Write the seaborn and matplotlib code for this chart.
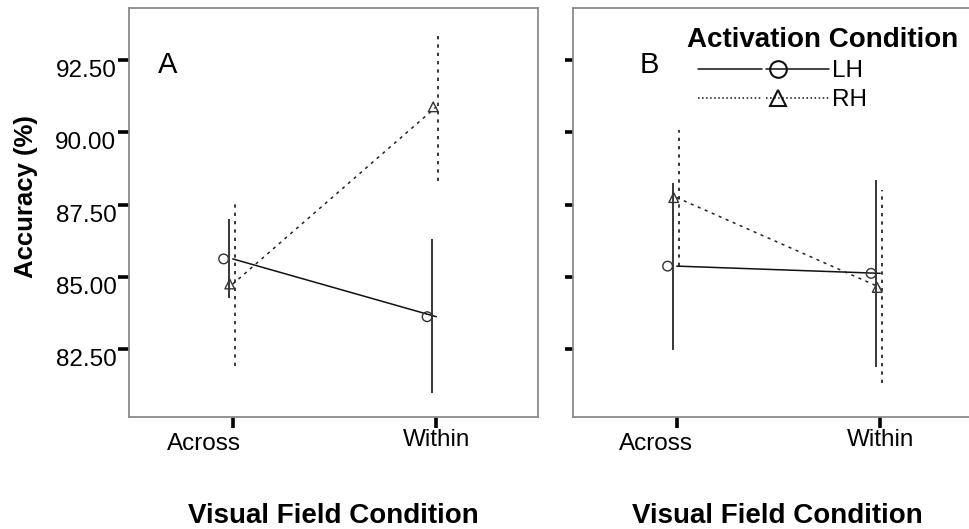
import numpy as np
import pandas as pd
import matplotlib
matplotlib.use("Agg")
import matplotlib.pyplot as plt
import matplotlib.transforms as mtransforms
from matplotlib.lines import Line2D
from matplotlib.legend_handler import HandlerBase
import seaborn as sns

# ---- data -------------------------------------------------------------
conditions = ["Across", "Within"]
hemispheres = ["LH", "RH"]
panel_labels = ["A", "B"]
y_ticks = [82.5, 85.0, 87.5, 90.0, 92.5]

# Panel A: mean accuracy (%) and confidence limits, [Across, Within]
lh_mean_a = [85.62, 83.62]
lh_low_a = [84.26, 80.98]
lh_high_a = [87.00, 86.31]
rh_mean_a = [84.75, 90.88]
rh_low_a = [81.90, 88.31]
rh_high_a = [87.59, 93.47]

# Panel B
lh_mean_b = [85.37, 85.12]
lh_low_b = [82.47, 81.88]
lh_high_b = [88.24, 88.35]
rh_mean_b = [87.74, 84.63]
rh_low_b = [85.37, 81.32]
rh_high_b = [90.08, 88.00]

# ---- style ------------------------------------------------------------
sns.set_style("white")
plt.rcParams["font.family"] = ["Liberation Sans", "DejaVu Sans"]
plt.rcParams.update({
    "text.color": "black",
    "axes.labelcolor": "black",
    "xtick.color": "black",
    "ytick.color": "black",
})

W, H = 970, 529
fig = plt.figure(figsize=(W / 100, H / 100), dpi=100)
ax_a = fig.add_axes([129 / W, 112 / H, 409 / W, 409 / H])
ax_b = fig.add_axes([573 / W, 112 / H, 409 / W, 409 / H])

line_off = {"LH": 0.0, "RH": 0.0}
bar_off = {"LH": -0.02, "RH": 0.01}
mark_off = {"LH": -0.045, "RH": -0.015}
dotted = (0, (2, 3))


def panel_frame(lh_m, lh_lo, lh_hi, rh_m, rh_lo, rh_hi):
    df = pd.DataFrame({
        "cond": conditions * 2,
        "hemi": ["LH"] * 2 + ["RH"] * 2,
        "acc": lh_m + rh_m,
        "low": lh_lo + rh_lo,
        "high": lh_hi + rh_hi,
    })
    pos = df["cond"].map({c: i for i, c in enumerate(conditions)})
    df["x_line"] = pos + df["hemi"].map(line_off)
    df["x_bar"] = pos + df["hemi"].map(bar_off)
    df["x_mark"] = pos + df["hemi"].map(mark_off)
    return df


frames = [
    panel_frame(lh_mean_a, lh_low_a, lh_high_a, rh_mean_a, rh_low_a, rh_high_a),
    panel_frame(lh_mean_b, lh_low_b, lh_high_b, rh_mean_b, rh_low_b, rh_high_b),
]

label_shift = [-28.5, -21.0]   # horizontal shift of the "Across" label, px

for ax, df, letter, shift in zip([ax_a, ax_b], frames, panel_labels, label_shift):
    # connecting lines
    sns.lineplot(data=df, x="x_line", y="acc", hue="hemi", style="hemi",
                 palette={"LH": "#111111", "RH": "#222222"},
                 dashes={"LH": "", "RH": (2, 3)}, linewidth=1.1,
                 errorbar=None, legend=False, ax=ax)
    # confidence-interval bars
    for h, ls in zip(hemispheres, ["solid", dotted]):
        sub = df[df["hemi"] == h]
        ax.vlines(sub["x_bar"], sub["low"], sub["high"], colors="#151515",
                  linestyles=ls, linewidth=1.2)
    # hollow markers
    n_before = len(ax.collections)
    sns.scatterplot(data=df, x="x_mark", y="acc", style="hemi",
                    markers={"LH": "o", "RH": "^"}, s=48, color="#333333",
                    legend=False, ax=ax, zorder=3)
    for coll in ax.collections[n_before:]:
        coll.set_facecolor("none")
        coll.set_edgecolor("#333333")
        coll.set_linewidth(1.0)

    ax.set_xlim(-0.51, 1.5)
    ax.set_ylim(80.15, 94.3)
    ax.set_xticks(range(len(conditions)))
    ax.set_xticklabels(conditions)
    ax.set_yticks(y_ticks)
    ax.set_yticklabels([f"{v:.2f}" for v in y_ticks])
    ax.tick_params(axis="both", direction="out", length=8, width=2.6,
                   color="black", labelcolor="black", labelsize=17.5, pad=1,
                   left=True, bottom=True)
    for sp in ax.spines.values():
        sp.set_visible(True)
        sp.set_color("#8a8a8a")
        sp.set_linewidth(1.3)

    ax.set_xlabel("Visual Field Condition", fontsize=20, fontweight="bold",
                  color="black")
    ax.xaxis.set_label_coords(0.5, -0.259)
    ax.xaxis.label.set_va("baseline")

    # shift the first category label
    lbl = ax.get_xticklabels()[0]
    lbl.set_transform(lbl.get_transform() + mtransforms.ScaledTranslation(
        shift / 100, -4 / 100, fig.dpi_scale_trans))

    for t in ax.get_yticklabels():
        t.set_va("top")

ax_a.text(0.071, 0.841, "A", transform=ax_a.transAxes, fontsize=21,
          va="baseline", color="black")
ax_b.text(0.164, 0.841, "B", transform=ax_b.transAxes, fontsize=21,
          va="baseline", color="black")

ax_a.set_ylabel("Accuracy (%)", fontsize=18.5, fontweight="bold",
                color="black")
ax_a.yaxis.set_label_coords(-0.253, 0.538)
ax_a.yaxis.label.set_va("center")

ax_b.tick_params(axis="y", labelleft=False, length=6)
ax_b.set_ylabel("")
ax_b.spines["right"].set_visible(False)


# ---- legend -----------------------------------------------------------
class MarkerOnLine(HandlerBase):
    lead = 0.078   # blank lead-in before the line, as a fraction of width

    def create_artists(self, legend, orig, xdescent, ydescent, width, height,
                       fontsize, trans):
        y = height / 2 - ydescent
        x0 = -xdescent + self.lead * width
        w = width * (1 - self.lead)
        ls = orig.get_linestyle()
        kw = dict(color="#111111", linestyle=ls, linewidth=1.1)
        seg1 = Line2D([x0, x0 + 0.49 * w], [y, y], **kw)
        seg2 = Line2D([x0 + 0.52 * w, x0 + w], [y, y], **kw)
        mk = Line2D([x0 + 0.61 * w], [y], marker=orig.get_marker(),
                    markersize=12, markerfacecolor="none",
                    markeredgecolor="#111111", markeredgewidth=1.5,
                    linestyle="none")
        for a in (seg1, seg2, mk):
            a.set_transform(trans)
        return [seg1, seg2, mk]


handles = [Line2D([], [], linestyle="-", marker="o"),
           Line2D([], [], linestyle=":", marker="^")]
leg = ax_b.legend(handles, hemispheres, title="Activation Condition",
                  handler_map={Line2D: MarkerOnLine()}, loc="upper left",
                  bbox_to_anchor=(0.279, 0.954), frameon=False, fontsize=17.5,
                  title_fontproperties={"weight": "bold", "size": 20},
                  handlelength=5.85, handletextpad=0.1, labelspacing=0.3,
                  borderpad=0, borderaxespad=0, alignment="left")
leg.get_title().set_color("black")
for t in leg.get_texts():
    t.set_color("black")

fig.savefig("out.png", dpi=100)
